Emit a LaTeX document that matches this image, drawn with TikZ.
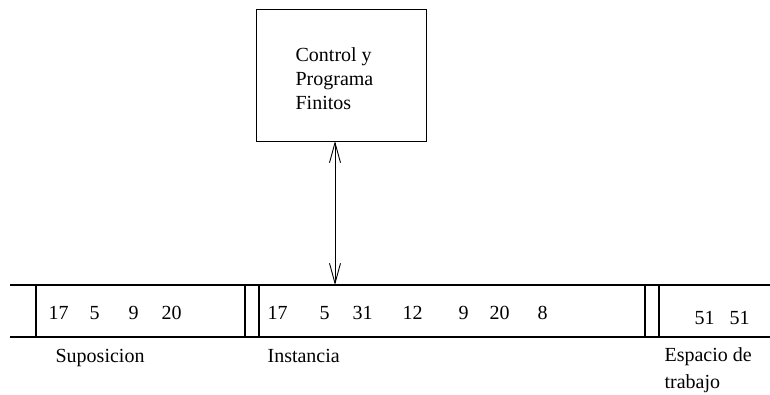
\documentclass[tikz,border=0pt]{standalone}
\usepackage{fontspec}
\setmainfont{Liberation Serif}
\usetikzlibrary{arrows.meta}
\begin{document}
\begin{tikzpicture}[x=1pt,y=-1pt,
  line width=1.2pt,
  txt/.style={inner sep=0pt,anchor=base west,font=\fontsize{20}{24}\selectfont},
  barb/.style={{Straight Barb[length=20pt,width=11pt]}-{Straight Barb[length=20pt,width=11pt]}}]
\useasboundingbox (0,0) rectangle (770,395);
% finite control box
\node[draw,minimum width=170pt,minimum height=132pt,inner sep=0pt,anchor=north west] (ctrl) at (256,9) {};
\node[txt] (ctrltxt) at (295,62) {Control y};
\node[txt] (ctrltxt2) at (295,86) {Programa};
\node[txt] (ctrltxt3) at (295,110) {Finitos};
% tape
\coordinate (tl) at (10,285);
\coordinate (tr) at (770,285);
\coordinate (bl) at (10,337);
\coordinate (br) at (770,337);
\draw (tl) -- (tr);
\draw (bl) -- (br);
\foreach \xx in {36,245,259,645,659}{
  \draw (\xx,285) -- (\xx,337);
}
% arrow between control and tape
\coordinate (head) at (335,285);
\coordinate (foot) at (335,141);
\draw[barb,line width=0.9pt] (foot) -- (head);
% contents
\node[txt] (a1) at (48,319) {17};
\node[txt] (a2) at (89,319) {5};
\node[txt] (a3) at (128,319) {9};
\node[txt] (a4) at (161,319) {20};
\node[txt] (b1) at (267,319) {17};
\node[txt] (b2) at (319,319) {5};
\node[txt] (b3) at (352,319) {31};
\node[txt] (b4) at (402,319) {12};
\node[txt] (b5) at (458,319) {9};
\node[txt] (b6) at (489,319) {20};
\node[txt] (b7) at (537,319) {8};
\node[txt] (c1) at (694,324) {51};
\node[txt] (c2) at (729,324) {51};
% labels
\node[txt] (l1) at (55,362) {Suposicion};
\node[txt] (l2) at (267,362) {Instancia};
\node[txt] (l3) at (664,361) {Espacio de};
\node[txt] (l4) at (664,388) {trabajo};
\end{tikzpicture}
\end{document}
